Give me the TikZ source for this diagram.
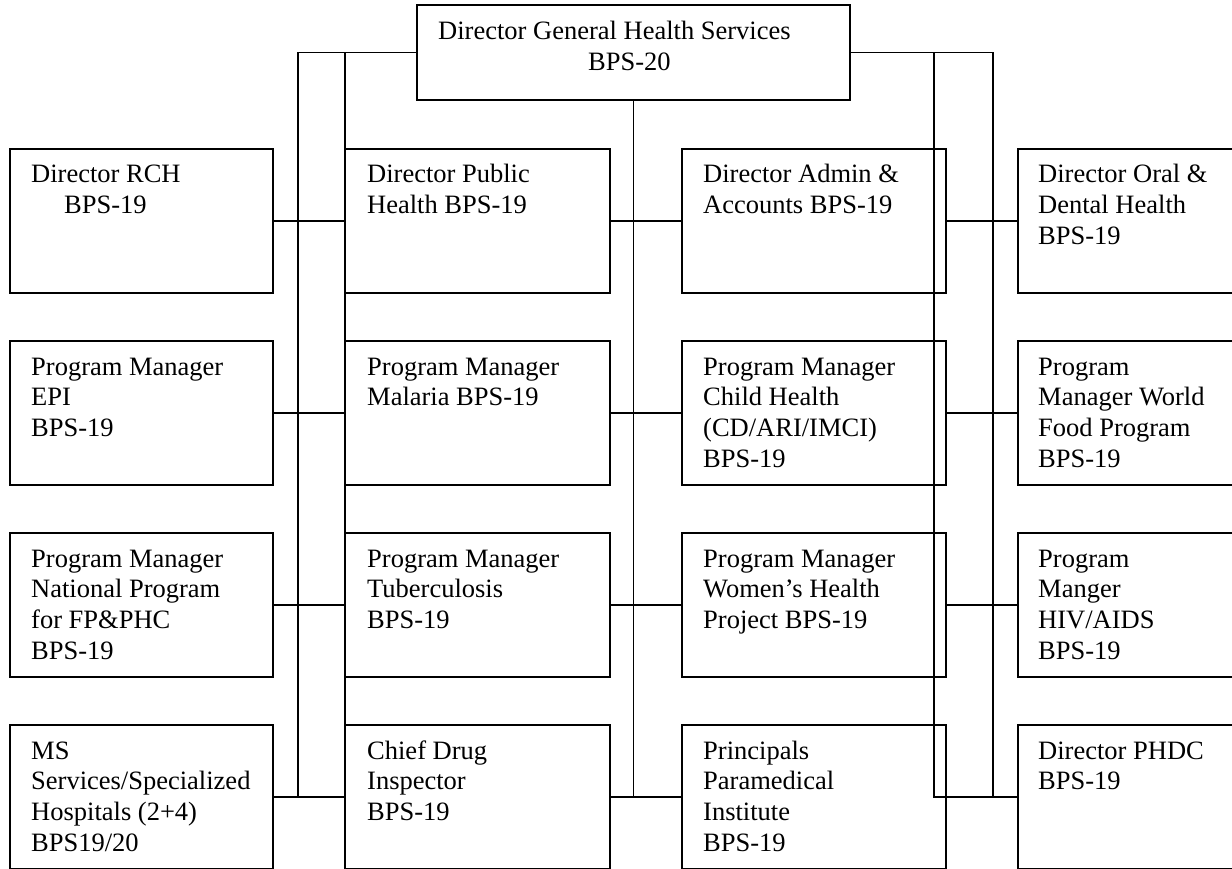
\documentclass[tikz,border=0pt]{standalone}
\usepackage{fontspec}
\setmainfont{Liberation Serif}
\newcommand{\boxtext}[1]{\begin{tabular}[t]{@{}l@{}}#1\end{tabular}}
\begin{document}
\begin{tikzpicture}[x=1pt,y=-1pt,
  orgbox/.style={draw,line width=1.8pt,inner sep=0pt,outer sep=0pt,anchor=north west,minimum height=144pt},
  toptext/.style={anchor=base west,inner sep=0pt,font=\fontsize{26.5}{30.7}\selectfont},
  link/.style={line width=1.8pt}]
\useasboundingbox (0,0) rectangle (1232,869);
% top box
\node[orgbox,minimum width=433pt,minimum height=95pt] (top) at (417,5) {};
\node[toptext] (ttop) at (438,40) {\boxtext{Director General Health Services\\\hspace*{150pt}BPS-20}};
% row 1
\node[orgbox,minimum width=263pt] (b11) at (10,149) {};
\node[orgbox,minimum width=265pt] (b12) at (345,149) {};
\node[orgbox,minimum width=264pt] (b13) at (682,149) {};
\node[orgbox,minimum width=240pt] (b14) at (1018,149) {};
% row 2
\node[orgbox,minimum width=263pt] (b21) at (10,341) {};
\node[orgbox,minimum width=265pt] (b22) at (345,341) {};
\node[orgbox,minimum width=264pt] (b23) at (682,341) {};
\node[orgbox,minimum width=240pt] (b24) at (1018,341) {};
% row 3
\node[orgbox,minimum width=263pt] (b31) at (10,533) {};
\node[orgbox,minimum width=265pt] (b32) at (345,533) {};
\node[orgbox,minimum width=264pt] (b33) at (682,533) {};
\node[orgbox,minimum width=240pt] (b34) at (1018,533) {};
% row 4
\node[orgbox,minimum width=263pt] (b41) at (10,725) {};
\node[orgbox,minimum width=265pt] (b42) at (345,725) {};
\node[orgbox,minimum width=264pt] (b43) at (682,725) {};
\node[orgbox,minimum width=240pt] (b44) at (1018,725) {};
% texts
\node[toptext] (t11) at (31,183) {\boxtext{Director RCH\\\hspace*{33pt}BPS-19}};
\node[toptext] (t12) at (367,183) {\boxtext{Director Public\\Health BPS-19}};
\node[toptext] (t13) at (703,183) {\boxtext{Director Admin \&\\Accounts BPS-19}};
\node[toptext] (t14) at (1038,183) {\boxtext{Director Oral \&\\Dental Health\\BPS-19}};
\node[toptext] (t21) at (31,375) {\boxtext{Program Manager\\EPI\\BPS-19}};
\node[toptext] (t22) at (367,375) {\boxtext{Program Manager\\Malaria BPS-19}};
\node[toptext] (t23) at (703,375) {\boxtext{Program Manager\\Child Health\\(CD/ARI/IMCI)\\BPS-19}};
\node[toptext] (t24) at (1038,375) {\boxtext{Program\\Manager World\\Food Program\\BPS-19}};
\node[toptext] (t31) at (31,567) {\boxtext{Program Manager\\National Program\\for FP\&PHC\\BPS-19}};
\node[toptext] (t32) at (367,567) {\boxtext{Program Manager\\Tuberculosis\\BPS-19}};
\node[toptext] (t33) at (703,567) {\boxtext{Program Manager\\Women’s Health\\Project BPS-19}};
\node[toptext] (t34) at (1038,567) {\boxtext{Program\\Manger\\HIV/AIDS\\BPS-19}};
\node[toptext] (t41) at (31,759) {\boxtext{MS\\Services/Specialized\\Hospitals (2+4)\\BPS19/20}};
\node[toptext] (t42) at (367,759) {\boxtext{Chief Drug\\Inspector\\BPS-19}};
\node[toptext] (t43) at (703,759) {\boxtext{Principals\\Paramedical\\Institute\\BPS-19}};
\node[toptext] (t44) at (1038,759) {\boxtext{Director PHDC\\BPS-19}};
% trunk coordinates
\coordinate (jL) at (298,0);
\coordinate (jR1) at (934,0);
\coordinate (jR2) at (993,0);
% trunks
\draw[link] (top.west) -| (jL |- b41.east);
\draw[link] (b12.north west |- top.west) -- (b42.north west);
\draw[link] (top.south) -- (top.south |- b43.east);
\draw[link] (top.east) -| (jR2 |- b44.west);
\draw[link] (jR1 |- top.east) -- (jR1 |- b44.west) -- (b44.west);
% row connectors
\foreach \r in {1,2,3,4}{
  \draw[link] (b\r1.east) -- (b\r2.west);
  \draw[link] (b\r2.east) -- (b\r3.west);
  \draw[link] (b\r3.east) -- (b\r4.west);
}
\end{tikzpicture}
\end{document}
